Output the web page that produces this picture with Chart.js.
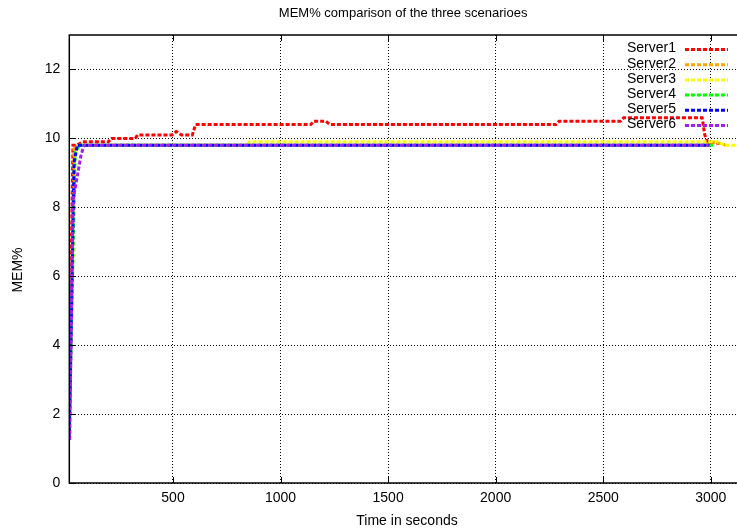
<!DOCTYPE html>
<html>
<head>
<meta charset="utf-8">
<script src="https://cdn.jsdelivr.net/npm/chart.js@4/dist/chart.umd.min.js"></script>
<style>
  html, body { margin: 0; padding: 0; background: #fff; }
  #wrap { width: 737px; height: 531px; }
</style>
</head>
<body>
<div id="wrap"><canvas id="chart"></canvas></div>
<script>
// tick labels
const xTicks = [500, 1000, 1500, 2000, 2500, 3000]
const yTicks = [0, 2, 4, 6, 8, 10, 12]

const seriesNames = ['Server1', 'Server2', 'Server3', 'Server4', 'Server5', 'Server6']

// time (s) / MEM% per server
const server1Time = [18, 35, 50, 81, 200, 215, 325, 335, 495, 515, 540, 590, 605, 1140, 1155, 1210, 1230, 2280, 2295, 2580, 2595, 2960, 2972, 2985, 3040]
const server1Mem  = [2.8, 9.8, 9.8, 9.9, 9.9, 10.0, 10.0, 10.1, 10.1, 10.2, 10.1, 10.1, 10.4, 10.4, 10.5, 10.5, 10.4, 10.4, 10.5, 10.5, 10.6, 10.6, 10.1, 9.9, 9.85]

const server2Time = [18, 40, 60, 2980, 3000, 3050, 3070]
const server2Mem  = [1.8, 9.7, 9.8, 9.8, 9.9, 9.85, 9.8]

const server3Time = [18, 45, 65, 845, 855, 3040, 3060, 3122]
const server3Mem  = [1.5, 9.5, 9.8, 9.8, 9.9, 9.9, 9.8, 9.8]

const server4Time = [18, 45, 65, 3010]
const server4Mem  = [1.5, 9.6, 9.8, 9.8]

const server5Time = [18, 40, 55, 2995]
const server5Mem  = [1.3, 9.3, 9.8, 9.8]

const server6Time = [20, 35, 58, 72, 86, 2990]
const server6Mem  = [1.25, 8.2, 9.0, 9.5, 9.8, 9.8]

const allTimes = [server1Time, server2Time, server3Time, server4Time, server5Time, server6Time]
const allMem = [server1Mem, server2Mem, server3Mem, server4Mem, server5Mem, server6Mem]

const colors = ['#ff0000', '#ffa500', '#ffff00', '#00ff00', '#0000ff', '#a020f0']
const FONT = 'Liberation Sans, Arial, sans-serif'

// gnuplot-ish frame: border, inward ticks, title, axis labels and key
const gnuplotFrame = {
  id: 'gnuplotFrame',
  afterDatasetsDraw(chart) {
    const { ctx, chartArea: a, scales } = chart
    ctx.save()

    // key, top right inside
    ctx.font = '14px ' + FONT
    ctx.textAlign = 'right'
    ctx.textBaseline = 'middle'
    seriesNames.forEach((name, i) => {
      const y = 48.5 + i * 15.2
      ctx.fillStyle = '#000'
      ctx.fillText(name, 676, y)
      ctx.strokeStyle = colors[i]
      ctx.lineWidth = 3
      ctx.setLineDash([4, 2])
      ctx.beginPath()
      ctx.moveTo(685, y + 1)
      ctx.lineTo(728, y + 1)
      ctx.stroke()
    })
    ctx.setLineDash([])

    // border
    ctx.strokeStyle = '#000'
    ctx.lineWidth = 1.5
    ctx.strokeRect(a.left, a.top, a.right - a.left + 2, a.bottom - a.top)

    // inward tick marks
    ctx.lineWidth = 1
    scales.x.ticks.forEach(t => {
      const x = Math.round(scales.x.getPixelForValue(t.value)) + 0.5
      ctx.beginPath()
      ctx.moveTo(x, a.bottom); ctx.lineTo(x, a.bottom - 6)
      ctx.moveTo(x, a.top); ctx.lineTo(x, a.top + 6)
      ctx.stroke()
    })
    scales.y.ticks.forEach(t => {
      const y = Math.round(scales.y.getPixelForValue(t.value)) + 0.5
      ctx.beginPath()
      ctx.moveTo(a.left, y); ctx.lineTo(a.left + 6, y)
      ctx.stroke()
    })

    // title
    ctx.fillStyle = '#000'
    ctx.textAlign = 'center'
    ctx.font = '13px ' + FONT
    ctx.fillText('MEM% comparison of the three scenarioes', (a.left + a.right) / 2, 13)

    // axis labels
    ctx.font = '14px ' + FONT
    ctx.fillText('Time in seconds', 407, 521)
    ctx.translate(18, 270)
    ctx.rotate(-Math.PI / 2)
    ctx.fillText('MEM%', 0, 0)
    ctx.restore()
  }
}

const ctx = document.getElementById('chart').getContext('2d')

new Chart(ctx, {
  type: 'line',
  data: {
    datasets: seriesNames.map((name, i) => ({
      label: name,
      data: allTimes[i].map((t, j) => ({ x: t, y: allMem[i][j] })),
      borderColor: colors[i],
      borderWidth: 3,
      borderDash: [4, 2],
      pointRadius: 0,
      tension: 0,
      fill: false,
      order: -i
    }))
  },
  options: {
    responsive: true,
    maintainAspectRatio: false,
    animation: false,
    events: [],
    layout: {
      padding: { top: 35, right: 0, left: 0, bottom: 0 }
    },
    plugins: {
      legend: { display: false },
      title: { display: false },
      tooltip: { enabled: false }
    },
    scales: {
      x: {
        type: 'linear',
        min: 18,
        max: 3122,
        afterBuildTicks: s => { s.ticks = xTicks.map(v => ({ value: v })) },
        afterFit: s => { s.height = 48 },
        ticks: {
          color: '#000',
          padding: 7,
          maxRotation: 0,
          font: { size: 14, family: FONT },
          callback: v => String(v)
        },
        grid: {
          color: '#000',
          lineWidth: 1,
          drawTicks: false
        },
        border: { display: false, dash: [1, 2] }
      },
      y: {
        min: 0,
        max: 13,
        afterBuildTicks: s => { s.ticks = yTicks.map(v => ({ value: v })) },
        afterFit: s => { s.width = 69.3 },
        ticks: {
          color: '#000',
          padding: 9,
          font: { size: 14, family: FONT },
          callback: v => String(v)
        },
        grid: {
          color: '#000',
          lineWidth: 1,
          drawTicks: false
        },
        border: { display: false, dash: [1, 2] }
      }
    }
  },
  plugins: [gnuplotFrame]
})
</script>
</body>
</html>
